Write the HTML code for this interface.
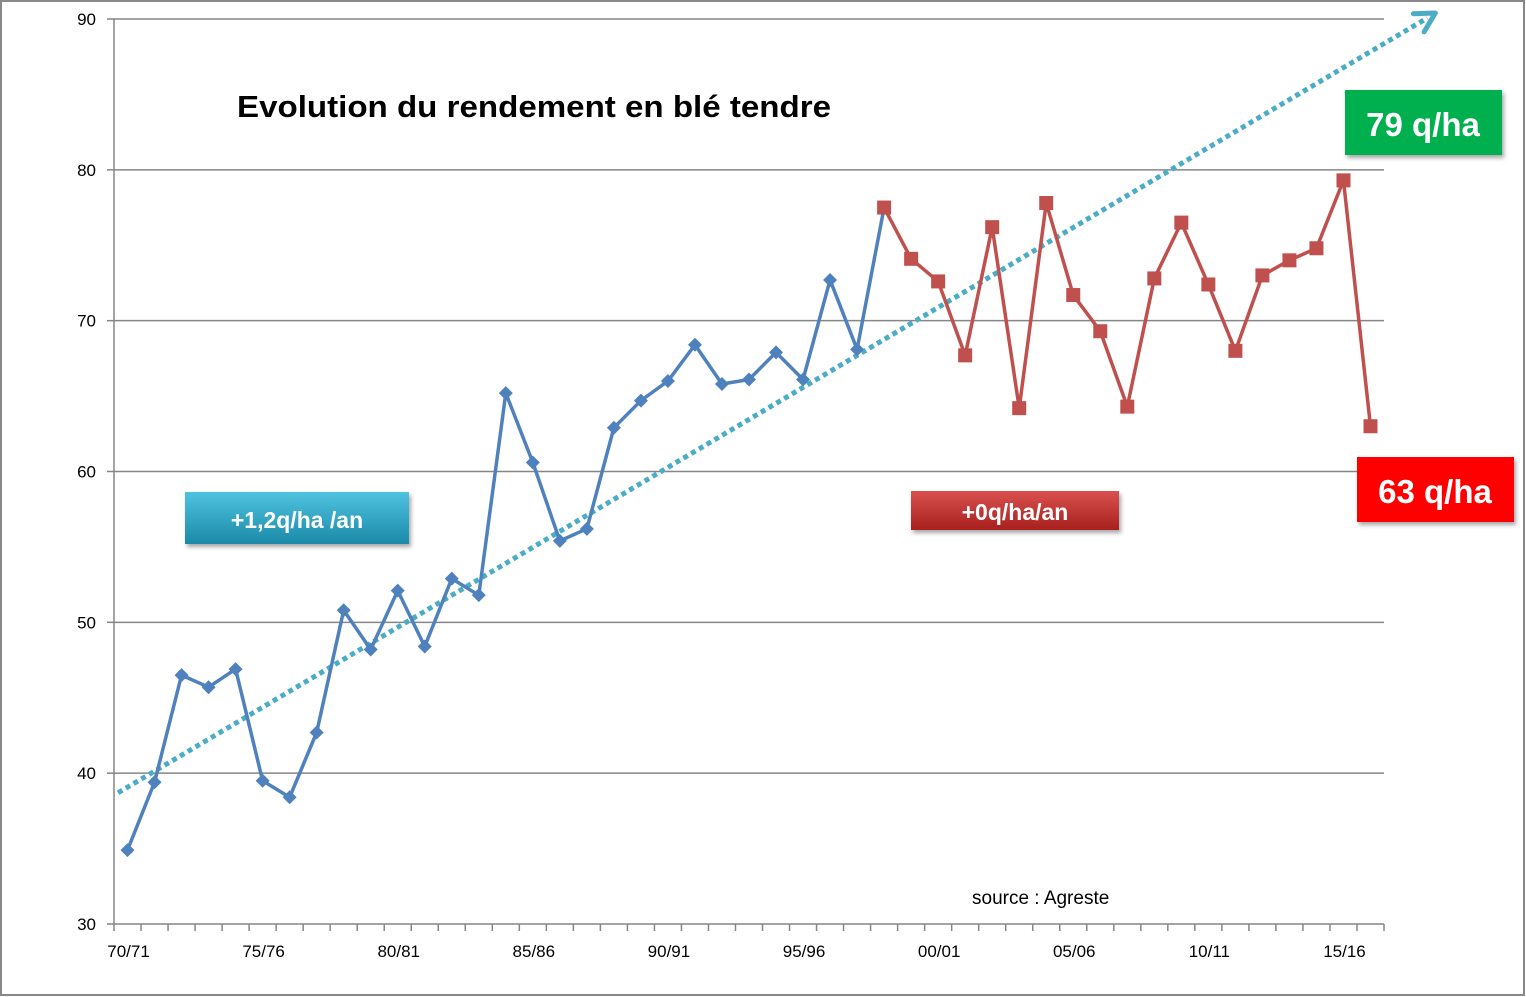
<!DOCTYPE html>
<html><head><meta charset="utf-8"><style>
html,body{margin:0;padding:0;background:#fff;}
svg{display:block;font-family:"Liberation Sans",sans-serif;}
</style></head><body>
<svg id="chart" width="1526" height="997" viewBox="0 0 1526 997">
<defs>
<linearGradient id="gb" x1="0" y1="0" x2="0" y2="1"><stop offset="0" stop-color="#4fc3e0"/><stop offset="1" stop-color="#1b8aa8"/></linearGradient>
<linearGradient id="gr" x1="0" y1="0" x2="0" y2="1"><stop offset="0" stop-color="#d9514f"/><stop offset="1" stop-color="#a8201e"/></linearGradient>
<filter id="sh" x="-10%" y="-10%" width="130%" height="140%"><feDropShadow dx="2" dy="3" stdDeviation="2" flood-color="#000" flood-opacity="0.35"/></filter>
</defs>
<rect x="1" y="1" width="1523" height="994" fill="#fff" stroke="#888" stroke-width="2"/>
<g id="grid"></g><g id="axes"></g><g id="series"></g>
<text x="237" y="117" font-size="31" font-weight="bold" fill="#000" textLength="594" lengthAdjust="spacingAndGlyphs">Evolution du rendement en blé tendre</text>
<text x="972" y="904" font-size="19" fill="#000">source : Agreste</text>
<g filter="url(#sh)">
<rect x="185" y="492" width="224" height="52" fill="url(#gb)"/>
<text x="297" y="528" font-size="23" font-weight="bold" fill="#fff" text-anchor="middle">+1,2q/ha /an</text></g>
<g filter="url(#sh)">
<rect x="911" y="491" width="208" height="39" fill="url(#gr)"/>
<text x="1015" y="520" font-size="23" font-weight="bold" fill="#fff" text-anchor="middle">+0q/ha/an</text></g>
<g filter="url(#sh)">
<rect x="1345" y="90" width="157" height="65" fill="#00b050"/>
<text x="1423" y="136" font-size="33" font-weight="bold" fill="#fff" text-anchor="middle">79 q/ha</text></g>
<g filter="url(#sh)">
<rect x="1357" y="457" width="157" height="65" fill="#ff0000"/>
<text x="1435" y="503" font-size="33" font-weight="bold" fill="#fff" text-anchor="middle">63 q/ha</text></g>
</svg>
<script>
const yTicks=[30,40,50,60,70,80,90];
const xLabels=["70/71","75/76","80/81","85/86","90/91","95/96","00/01","05/06","10/11","15/16"];
const blueValues=[34.9,39.4,46.5,45.7,46.9,39.5,38.4,42.7,50.8,48.2,52.1,48.4,52.9,51.8,65.2,60.6,55.4,56.2,62.9,64.7,66.0,68.4,65.8,66.1,67.9,66.1,72.7,68.1,77.5];
const redValues=[77.5,74.1,72.6,67.7,76.2,64.2,77.8,71.7,69.3,64.3,72.8,76.5,72.4,68.0,73.0,74.0,74.8,79.3,63.0];
const redStart=28;
const nCats=47;
const trendStart=[-0.35,38.7];
const trendEnd=[48.4,90.4];
const NS="http://www.w3.org/2000/svg";
const X0=114,X1=1384,Y0=924,Y1=19;
const cw=(X1-X0)/nCats;
function xs(i){return X0+cw*(i+0.5);}
function ys(v){return Y0-(v-30)/60*(Y0-Y1);}
function mk(t,a,p){const e=document.createElementNS(NS,t);for(const k in a)e.setAttribute(k,a[k]);p.appendChild(e);return e;}
const grid=document.getElementById('grid'),axes=document.getElementById('axes'),ser=document.getElementById('series');
yTicks.forEach(v=>{
 if(v>30){const l=mk('line',{x1:X0,x2:X1,y1:ys(v),y2:ys(v),stroke:'#868686','stroke-width':1.5},grid);
 
 }
 const tk=mk('line',{x1:X0-7,x2:X0,y1:ys(v),y2:ys(v),stroke:'#868686','stroke-width':1.5},axes);
 
 
 const t=mk('text',{x:X0-18,y:ys(v)+6,'font-size':17,'text-anchor':'end',fill:'#000'},axes);t.textContent=v;
 
 
});
const ya=mk('line',{x1:X0,x2:X0,y1:Y1,y2:Y0,stroke:'#868686','stroke-width':1.5},axes);


const xa=mk('line',{x1:X0,x2:X1,y1:Y0,y2:Y0,stroke:'#868686','stroke-width':1.5},axes);


for(let i=0;i<=nCats;i++){const tk=mk('line',{x1:X0+cw*i,x2:X0+cw*i,y1:Y0,y2:Y0+7,stroke:'#868686','stroke-width':1.5},axes);
 
 }
xLabels.forEach((s,k)=>{const t=mk('text',{x:xs(k*5)+1,y:957,'font-size':17,'text-anchor':'middle',fill:'#000'},axes);t.textContent=s;
 
 });
const tx1=X0+cw*(trendStart[0]+0.5),ty1=ys(trendStart[1]),tx2=X0+cw*(trendEnd[0]+0.5),ty2=ys(trendEnd[1]);
const tl=mk('line',{x1:tx1,y1:ty1,x2:tx2-8,y2:ty2+5,stroke:'#4bacc6','stroke-width':5,'stroke-dasharray':'5 4'},ser);


const ang=Math.atan2(ty2-ty1,tx2-tx1);
function pt(a,r){return (tx2+r*Math.cos(a))+','+(ty2+r*Math.sin(a));}
const ah=mk('polyline',{points:pt(ang+Math.PI-0.5,22)+' '+tx2+','+ty2+' '+pt(ang+Math.PI+0.5,22),fill:'none',stroke:'#4bacc6','stroke-width':5,'stroke-linecap':'round','stroke-linejoin':'round'},ser);


const bl=mk('polyline',{points:blueValues.map((v,i)=>xs(i)+','+ys(v)).join(' '),fill:'none',stroke:'#4f81bd','stroke-width':3.5,'stroke-linejoin':'round'},ser);


blueValues.forEach((v,i)=>{if(i>=redStart)return;const x=xs(i),y=ys(v);
 const m=mk('polygon',{points:`${x},${y-7} ${x+7},${y} ${x},${y+7} ${x-7},${y}`,fill:'#4f81bd'},ser);
 
 });
const rl=mk('polyline',{points:redValues.map((v,i)=>xs(i+redStart)+','+ys(v)).join(' '),fill:'none',stroke:'#c0504d','stroke-width':3.5,'stroke-linejoin':'round'},ser);


redValues.forEach((v,i)=>{const x=xs(i+redStart),y=ys(v);
 const m=mk('rect',{x:x-7,y:y-7,width:14,height:14,fill:'#c0504d'},ser);
 
 });
</script>
</body></html>
